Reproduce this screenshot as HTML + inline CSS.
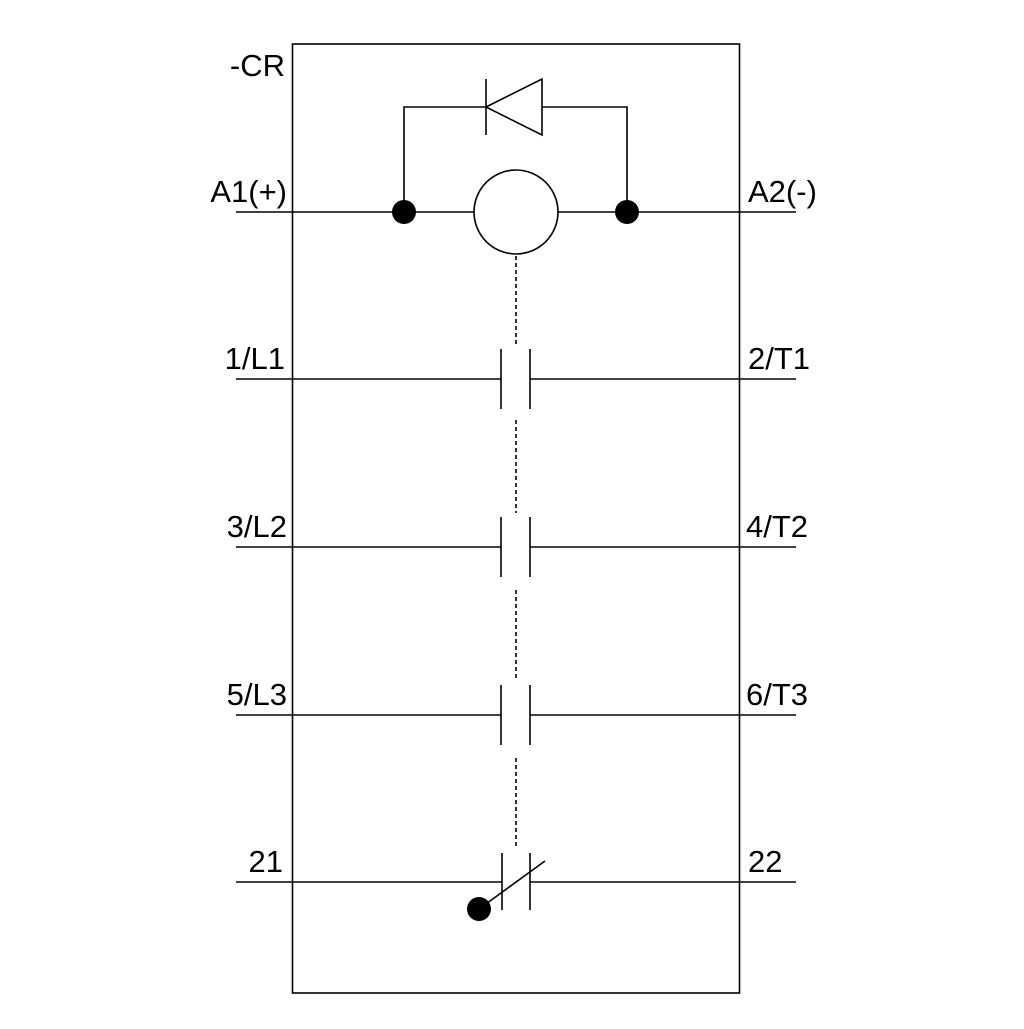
<!DOCTYPE html>
<html><head><style>body{margin:0;background:#fff}</style></head><body>
<svg width="1024" height="1024" viewBox="0 0 1024 1024" xmlns="http://www.w3.org/2000/svg" font-family="Liberation Sans, sans-serif" font-size="31">
<rect x="0" y="0" width="1024" height="1024" fill="#fff"/>
<g stroke="#000" stroke-width="1.6" fill="none">
<rect x="292.5" y="44" width="447" height="949"/>
<line x1="236" y1="212" x2="474" y2="212"/>
<line x1="558" y1="212" x2="796" y2="212"/>
<circle cx="516" cy="212" r="42"/>
<polyline points="404,212 404,107 486,107"/>
<polyline points="542,107 627,107 627,212"/>
<line x1="486" y1="79" x2="486" y2="135"/>
<polygon points="486,107 542,79 542,135"/>
<g stroke-dasharray="4,3">
<line x1="516" y1="256" x2="516" y2="345"/>
<line x1="516" y1="420" x2="516" y2="513"/>
<line x1="516" y1="590" x2="516" y2="680"/>
<line x1="516" y1="758" x2="516" y2="848"/>
</g>
<g>
<line x1="236" y1="379" x2="501" y2="379"/><line x1="530" y1="379" x2="796" y2="379"/>
<line x1="501" y1="349" x2="501" y2="409"/><line x1="530" y1="349" x2="530" y2="409"/>
<line x1="236" y1="547" x2="501" y2="547"/><line x1="530" y1="547" x2="796" y2="547"/>
<line x1="501" y1="517" x2="501" y2="577"/><line x1="530" y1="517" x2="530" y2="577"/>
<line x1="236" y1="715" x2="501" y2="715"/><line x1="530" y1="715" x2="796" y2="715"/>
<line x1="501" y1="685" x2="501" y2="745"/><line x1="530" y1="685" x2="530" y2="745"/>
</g>
<line x1="236" y1="882" x2="502" y2="882"/><line x1="530" y1="882" x2="796" y2="882"/>
<line x1="502" y1="853" x2="502" y2="910"/><line x1="530" y1="853" x2="530" y2="910"/>
<line x1="479" y1="909" x2="545" y2="861"/>
</g>
<g fill="#000">
<circle cx="404" cy="212" r="12"/>
<circle cx="627" cy="212" r="12"/>
<circle cx="479" cy="909" r="12"/>
</g>
<g fill="#000" text-anchor="end">
<text x="285" y="76">-CR</text>
<text x="287" y="202">A1(+)</text>
<text x="285" y="369">1/L1</text>
<text x="287" y="537">3/L2</text>
<text x="287" y="705">5/L3</text>
<text x="283" y="872">21</text>
</g>
<g fill="#000">
<text x="748" y="202">A2(-)</text>
<text x="748" y="369">2/T1</text>
<text x="746" y="537">4/T2</text>
<text x="746" y="705">6/T3</text>
<text x="748" y="872">22</text>
</g>
</svg>
</body></html>
